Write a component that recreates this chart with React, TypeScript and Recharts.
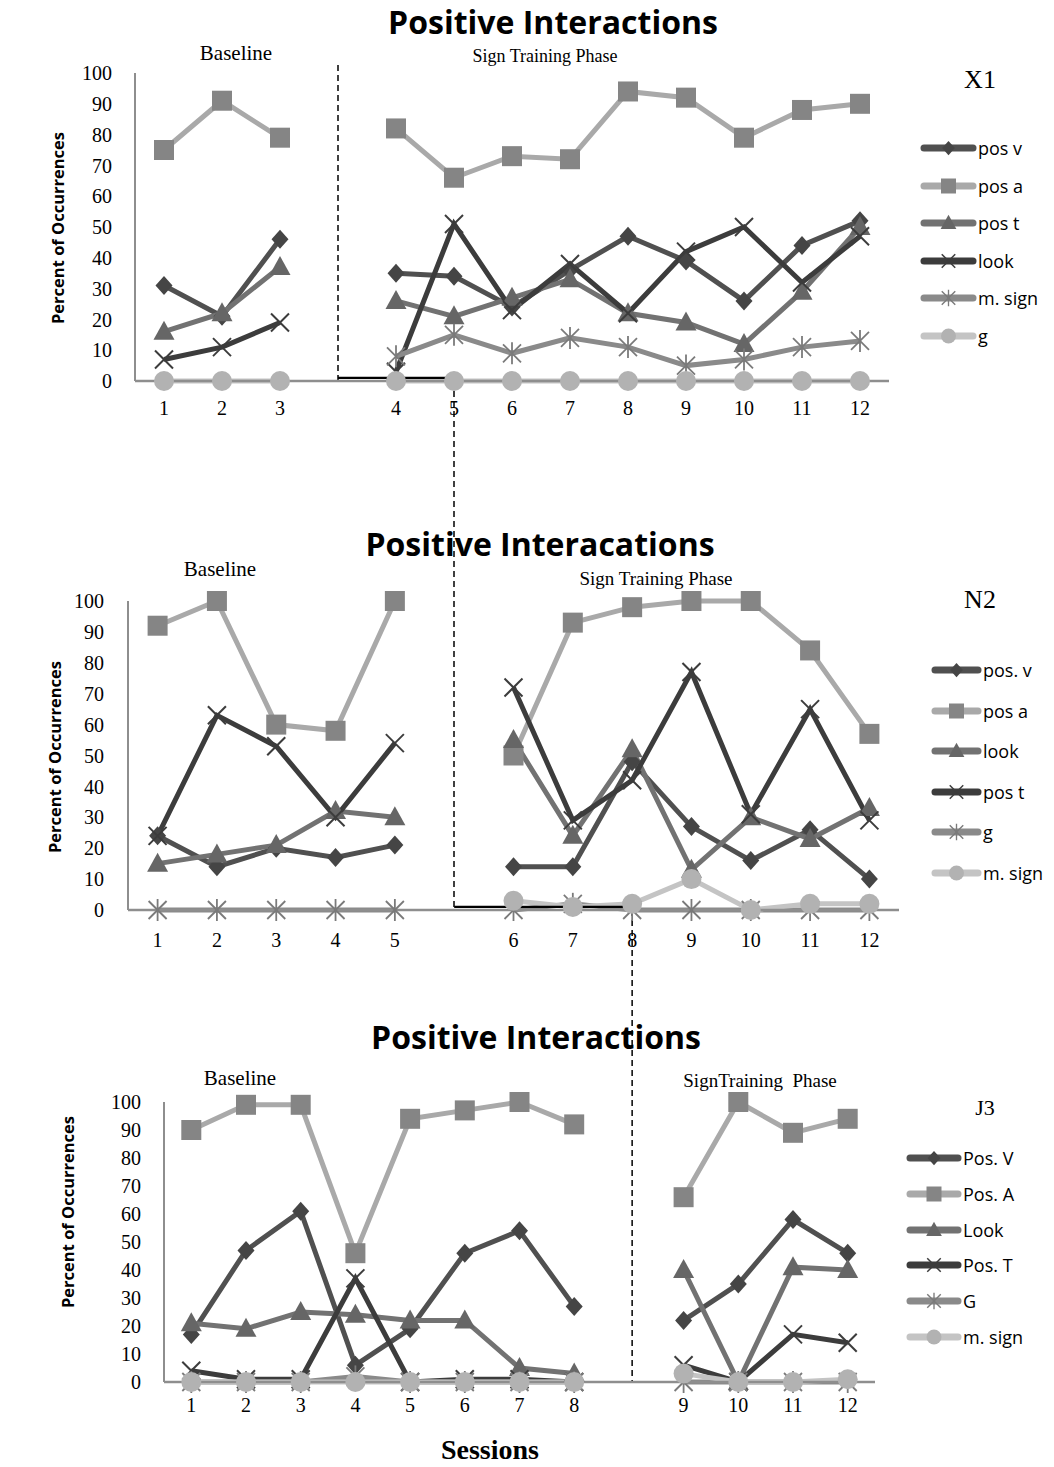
import React from "react";
import { LineChart, Line, XAxis, YAxis, ReferenceLine } from "recharts";

// gap slot that separates the baseline phase from sign training
const GAP = "|";
const yTicks = [0, 10, 20, 30, 40, 50, 60, 70, 80, 90, 100];

// X1
const x1Sessions = ["1", "2", "3", GAP, "4", "5", "6", "7", "8", "9", "10", "11", "12"];
const x1PosV = [31, 21, 46, null, 35, 34, 24, 36, 47, 39, 26, 44, 52];
const x1PosA = [75, 91, 79, null, 82, 66, 73, 72, 94, 92, 79, 88, 90];
const x1PosT = [16, 22, 37, null, 26, 21, 27, 33, 22, 19, 12, 29, 50];
const x1Look = [7, 11, 19, null, 3, 51, 23, 38, 22, 42, 50, 32, 47];
const x1MSign = [null, null, null, null, 8, 15, 9, 14, 11, 5, 7, 11, 13];
const x1G = [0, 0, 0, null, 0, 0, 0, 0, 0, 0, 0, 0, 0];

// N2
const n2Sessions = ["1", "2", "3", "4", "5", GAP, "6", "7", "8", "9", "10", "11", "12"];
const n2PosV = [24, 14, 20, 17, 21, null, 14, 14, 48, 27, 16, 26, 10];
const n2PosA = [92, 100, 60, 58, 100, null, 50, 93, 98, 100, 100, 84, 57];
const n2Look = [15, 18, 21, 32, 30, null, 55, 24, 52, 13, 30, 23, 33];
const n2PosT = [24, 63, 53, 30, 54, null, 72, 29, 42, 77, 31, 65, 29];
const n2G = [0, 0, 0, 0, 0, null, 0, 2, 0, 0, 0, 0, 0];
const n2MSign = [null, null, null, null, null, null, 3, 1, 2, 10, 0, 2, 2];

// J3
const j3Sessions = ["1", "2", "3", "4", "5", "6", "7", "8", GAP, "9", "10", "11", "12"];
const j3PosV = [17, 47, 61, 6, 19, 46, 54, 27, null, 22, 35, 58, 46];
const j3PosA = [90, 99, 99, 46, 94, 97, 100, 92, null, 66, 100, 89, 94];
const j3Look = [21, 19, 25, 24, 22, 22, 5, 3, null, 40, 0, 41, 40];
const j3PosT = [4, 1, 1, 37, 0, 1, 1, 0, null, 6, 0, 17, 14];
const j3G = [0, 0, 0, 2, 0, 0, 0, 0, null, 0, 0, 0, 0];
const j3MSign = [0, 0, 0, 0, 0, 0, 0, 0, null, 3, 0, 0, 1];

const SERIF = "'Liberation Serif', 'Times New Roman', serif";
const SANS = "'Open Sans', 'Noto Sans', sans-serif";

type Shape = "diamond" | "square" | "triangle" | "x" | "star" | "circle";

const LOOK: Record<Shape, { line: string; fill: string }> = {
  diamond: { line: "#505050", fill: "#454545" },
  square: { line: "#a9a9a9", fill: "#858585" },
  triangle: { line: "#727272", fill: "#666666" },
  x: { line: "#3c3c3c", fill: "#3c3c3c" },
  star: { line: "#8a8a8a", fill: "#7a7a7a" },
  circle: { line: "#c4c4c4", fill: "#b2b2b2" },
};

function Marker({ shape, cx, cy, k = 1 }: { shape: Shape; cx: number; cy: number; k?: number }) {
  const c = LOOK[shape].fill;
  const t = `translate(${cx},${cy}) scale(${k})`;
  switch (shape) {
    case "diamond":
      return <polygon transform={t} points="0,-9.5 8.5,0 0,9.5 -8.5,0" fill={c} />;
    case "square":
      return <rect transform={t} x={-10} y={-10} width={20} height={20} fill={c} />;
    case "triangle":
      return <polygon transform={t} points="0,-11 10.5,8 -10.5,8" fill={c} />;
    case "x":
      return (
        <g transform={t} stroke={c} strokeWidth={2}>
          <line x1={-9} y1={-9} x2={9} y2={9} />
          <line x1={-9} y1={9} x2={9} y2={-9} />
        </g>
      );
    case "star":
      return (
        <g transform={t} stroke={c} strokeWidth={1.8}>
          <line x1={-9} y1={-9} x2={9} y2={9} />
          <line x1={-9} y1={9} x2={9} y2={-9} />
          <line x1={0} y1={-11} x2={0} y2={11} />
        </g>
      );
    default:
      return <circle transform={t} r={10} fill={c} />;
  }
}

const dotFor = (shape: Shape) => (p: any) => {
  if (p.cx == null || p.cy == null || p.value == null) return <g key={`e-${p.index}`} />;
  return (
    <g key={`d-${p.index}`}>
      <Marker shape={shape} cx={p.cx} cy={p.cy} />
    </g>
  );
};

type Series = { key: string; name: string; shape: Shape; values: (number | null)[] };

const x1Series: Series[] = [
  { key: "posV", name: "pos v", shape: "diamond", values: x1PosV },
  { key: "posA", name: "pos a", shape: "square", values: x1PosA },
  { key: "posT", name: "pos t", shape: "triangle", values: x1PosT },
  { key: "look", name: "look", shape: "x", values: x1Look },
  { key: "mSign", name: "m. sign", shape: "star", values: x1MSign },
  { key: "g", name: "g", shape: "circle", values: x1G },
];

const n2Series: Series[] = [
  { key: "posV", name: "pos. v", shape: "diamond", values: n2PosV },
  { key: "posA", name: "pos a", shape: "square", values: n2PosA },
  { key: "look", name: "look", shape: "triangle", values: n2Look },
  { key: "posT", name: "pos t", shape: "x", values: n2PosT },
  { key: "g", name: "g", shape: "star", values: n2G },
  { key: "mSign", name: "m. sign", shape: "circle", values: n2MSign },
];

const j3Series: Series[] = [
  { key: "posV", name: "Pos. V", shape: "diamond", values: j3PosV },
  { key: "posA", name: "Pos. A", shape: "square", values: j3PosA },
  { key: "look", name: "Look", shape: "triangle", values: j3Look },
  { key: "posT", name: "Pos. T", shape: "x", values: j3PosT },
  { key: "g", name: "G", shape: "star", values: j3G },
  { key: "mSign", name: "m. sign", shape: "circle", values: j3MSign },
];

type Seg = { from: [string, number]; to: [string, number]; dashed: boolean };

function Panel(props: {
  top: number;
  height: number;
  margin: { top: number; right: number; bottom: number; left: number };
  pad: number;
  sessions: string[];
  series: Series[];
  xTickMargin: number;
  yTickMargin: number;
  segs: Seg[];
}) {
  const rows = props.sessions.map((s, i) => {
    const r: any = { session: s };
    props.series.forEach((se) => (r[se.key] = se.values[i]));
    return r;
  });
  return (
    <div style={{ position: "absolute", left: 0, top: props.top }}>
      <LineChart width={1054} height={props.height} data={rows} margin={props.margin}>
        <XAxis
          dataKey="session"
          interval={0}
          padding={{ left: props.pad, right: props.pad }}
          tickLine={false}
          axisLine={{ stroke: "#8e8e8e", strokeWidth: 2.5 }}
          tick={{ fontFamily: SERIF, fontSize: 20, fill: "#000" }}
          tickFormatter={(v) => (v === GAP ? "" : v)}
          tickMargin={props.xTickMargin}
        />
        <YAxis
          domain={[0, 100]}
          ticks={yTicks}
          interval={0}
          width={60}
          tickLine={false}
          axisLine={{ stroke: "#8e8e8e", strokeWidth: 2 }}
          tick={{ fontFamily: SERIF, fontSize: 20, fill: "#000" }}
          tickMargin={props.yTickMargin}
        />
        {props.series.map((se) => (
          <Line
            key={se.key}
            type="linear"
            dataKey={se.key}
            name={se.name}
            stroke={LOOK[se.shape].line}
            strokeWidth={5}
            dot={dotFor(se.shape)}
            activeDot={false}
            isAnimationActive={false}
          />
        ))}
        {props.segs.map((s, i) => (
          <ReferenceLine
            key={i}
            segment={[
              { x: s.from[0], y: s.from[1] },
              { x: s.to[0], y: s.to[1] },
            ]}
            ifOverflow="visible"
            stroke="#000"
            strokeWidth={s.dashed ? 1.5 : 2.2}
            strokeDasharray={s.dashed ? "6 4" : undefined}
          />
        ))}
      </LineChart>
    </div>
  );
}

function Text(p: { x: number; y: number; children: React.ReactNode; style?: React.CSSProperties }) {
  return (
    <div
      style={{
        position: "absolute",
        left: p.x,
        top: p.y,
        transform: "translate(-50%, -50%)",
        whiteSpace: "pre",
        lineHeight: 1,
        ...p.style,
      }}
    >
      {p.children}
    </div>
  );
}

function LegendBox({ series, left, top, step, iconW }: { series: Series[]; left: number; top: number; step: number; iconW: number }) {
  return (
    <>
      {series.map((se, i) => (
        <div
          key={se.key}
          style={{
            position: "absolute",
            left,
            top: top + i * step - 12,
            height: 24,
            display: "flex",
            alignItems: "center",
            fontFamily: SANS,
            fontSize: 18,
            color: "#000",
          }}
        >
          <svg width={iconW} height={24}>
            <line x1={4} y1={12} x2={iconW - 4} y2={12} stroke={LOOK[se.shape].line} strokeWidth={7} strokeLinecap="round" />
            <Marker shape={se.shape} cx={iconW / 2} cy={12} k={0.75} />
          </svg>
          <span style={{ marginLeft: 1 }}>{se.name}</span>
        </div>
      ))}
    </>
  );
}

const titleStyle: React.CSSProperties = { fontFamily: SANS, fontWeight: 700, fontSize: 32 };
const phaseStyle: React.CSSProperties = { fontFamily: SERIF, fontSize: 21 };
const idStyle: React.CSSProperties = { fontFamily: SERIF, fontSize: 26 };
const yLabelStyle: React.CSSProperties = {
  fontFamily: SANS,
  fontWeight: 700,
  fontSize: 16.5,
  transform: "translate(-50%, -50%) rotate(-90deg)",
};

export default function App() {
  return (
    <div style={{ position: "relative", width: 1054, height: 1467, background: "#fff", overflow: "hidden" }}>
      <style>{`body{margin:0} svg.recharts-surface{overflow:visible}`}</style>

      <Panel
        top={0}
        height={440}
        margin={{ top: 73, right: 165, bottom: 29, left: 75 }}
        pad={29}
        sessions={x1Sessions}
        series={x1Series}
        xTickMargin={14}
        yTickMargin={17}
        segs={[
          { from: [GAP, 0], to: [GAP, 103], dashed: true },
          { from: [GAP, 1], to: ["5", 1], dashed: false },
          { from: ["5", 0], to: ["5", -172], dashed: true },
        ]}
      />
      <Panel
        top={500}
        height={460}
        margin={{ top: 101, right: 155, bottom: 20, left: 68 }}
        pad={29.6}
        sessions={n2Sessions}
        series={n2Series}
        xTickMargin={17}
        yTickMargin={18}
        segs={[
          { from: [GAP, 1], to: ["8", 1], dashed: false },
          { from: ["8", 0], to: ["8", -153], dashed: true },
        ]}
      />
      <Panel
        top={1040}
        height={400}
        margin={{ top: 62, right: 179, bottom: 28, left: 104 }}
        pad={27.3}
        sessions={j3Sessions}
        series={j3Series}
        xTickMargin={10}
        yTickMargin={17}
        segs={[]}
      />

      <Text x={553} y={22} style={titleStyle}>Positive Interactions</Text>
      <Text x={540} y={544} style={titleStyle}>Positive Interacations</Text>
      <Text x={536} y={1037} style={titleStyle}>Positive Interactions</Text>

      <Text x={236} y={53} style={phaseStyle}>Baseline</Text>
      <Text x={545} y={56} style={{ ...phaseStyle, fontSize: 18 }}>Sign Training Phase</Text>
      <Text x={220} y={569} style={phaseStyle}>Baseline</Text>
      <Text x={656} y={578} style={{ ...phaseStyle, fontSize: 19 }}>Sign Training Phase</Text>
      <Text x={240} y={1078} style={phaseStyle}>Baseline</Text>
      <Text x={760} y={1080} style={{ ...phaseStyle, fontSize: 19 }}>{"SignTraining  Phase"}</Text>

      <Text x={980} y={80} style={idStyle}>X1</Text>
      <Text x={980} y={600} style={idStyle}>N2</Text>
      <Text x={985} y={1108} style={{ ...idStyle, fontSize: 22 }}>J3</Text>

      <Text x={58} y={228} style={yLabelStyle}>Percent of Occurrences</Text>
      <Text x={55} y={757} style={yLabelStyle}>Percent of Occurrences</Text>
      <Text x={68} y={1212} style={yLabelStyle}>Percent of Occurrences</Text>

      <Text x={490} y={1450} style={{ fontFamily: SERIF, fontWeight: 700, fontSize: 28 }}>Sessions</Text>

      <LegendBox series={x1Series} left={920} top={148} step={37.6} iconW={57} />
      <LegendBox series={n2Series} left={931} top={670} step={40.6} iconW={51} />
      <LegendBox series={j3Series} left={906} top={1158} step={35.8} iconW={56} />
    </div>
  );
}
